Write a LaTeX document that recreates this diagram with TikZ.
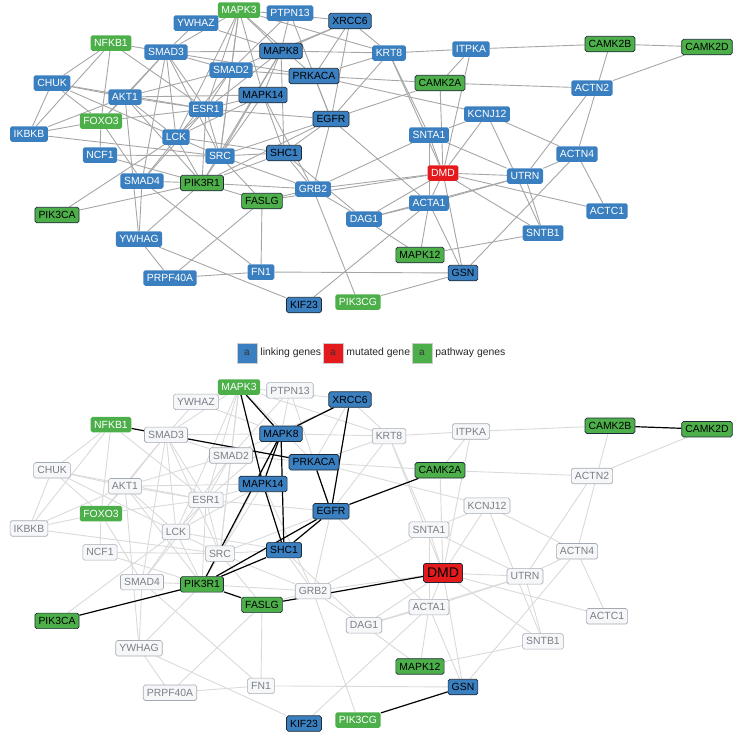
\documentclass[tikz,border=0pt]{standalone}
\usepackage{fontspec}
\setmainfont{Liberation Sans}
\usetikzlibrary{backgrounds}
\definecolor{gblue}{HTML}{3A7FC0}
\definecolor{ggreen}{HTML}{4DAF4A}
\definecolor{gred}{HTML}{E41A1C}
\definecolor{gborder}{HTML}{1F2A36}
\definecolor{edgegray}{HTML}{A6A6A6}
\definecolor{edgelight}{HTML}{DADADA}
\definecolor{greyfill}{HTML}{F6F7F9}
\definecolor{greyline}{HTML}{A4AAB2}
\definecolor{greytext}{HTML}{7A7F86}
\newcommand\genenode[5]{%
  \node[#4] (t#1) at (#2,#3) {#1};
  \node[#5] (b#1) at (#2,{375.6+1.1407*#3}) {#1};}
\newcommand\gedge[2]{%
  \draw[tedge] (t#1) -- (t#2);
  \draw[bedge] (b#1) -- (b#2);}
\newcommand\gblack[2]{%
  \draw[tedge] (t#1) -- (t#2);
  \draw[kedge] (b#1) -- (b#2);}
\tikzset{
  gbase/.style={rectangle, rounded corners=1.8pt, minimum height=15.5pt, inner xsep=3.6pt, inner ysep=0pt, font=\fontsize{10.4}{10.4}\selectfont},
  lb/.style={gbase, fill=gblue, text=white},
  db/.style={gbase, fill=gblue, draw=gborder, line width=0.7pt, text=black},
  lg/.style={gbase, fill=ggreen, text=white},
  dg/.style={gbase, fill=ggreen, draw=gborder, line width=0.7pt, text=black},
  rd/.style={gbase, fill=gred, text=white},
  rdb/.style={gbase, fill=gred, draw=gborder, line width=0.7pt, text=black, minimum height=19pt, font=\fontsize{14}{14}\selectfont},
  gr/.style={gbase, fill=greyfill, draw=greyline, line width=0.6pt, text=greytext},
  tedge/.style={draw=edgegray, line width=0.9pt},
  bedge/.style={draw=edgelight, line width=0.9pt},
  kedge/.style={draw=black, line width=1.2pt},
  legsq/.style={rectangle, minimum width=20pt, minimum height=20pt, inner sep=0pt, draw=white!80!black, line width=0.5pt, text=black!80, font=\fontsize{10}{10}\selectfont},
  legtxt/.style={anchor=west, inner xsep=3pt, text=black!85, font=\fontsize{10.4}{10.4}\selectfont}
}
\begin{document}
\begin{tikzpicture}[x=1pt,y=-1pt]
\useasboundingbox (0,0) rectangle (740,736);
% nodes
\genenode{MAPK3}{239}{10}{lg}{lg}
\genenode{PTPN13}{290}{13}{lb}{gr}
\genenode{XRCC6}{350}{21}{db}{db}
\genenode{YWHAZ}{196}{23}{lb}{gr}
\genenode{NFKB1}{111}{43}{lg}{lg}
\genenode{SMAD3}{166}{52}{lb}{gr}
\genenode{MAPK8}{281}{51}{db}{db}
\genenode{KRT8}{389}{53}{lb}{gr}
\genenode{ITPKA}{471}{49}{lb}{gr}
\genenode{CAMK2B}{610}{44}{dg}{dg}
\genenode{CAMK2D}{707}{47}{dg}{dg}
\genenode{CHUK}{52}{83}{lb}{gr}
\genenode{SMAD2}{231}{70}{lb}{gr}
\genenode{PRKACA}{314}{76}{db}{db}
\genenode{CAMK2A}{440}{83}{dg}{dg}
\genenode{ACTN2}{592}{88}{lb}{gr}
\genenode{AKT1}{125}{97}{lb}{gr}
\genenode{MAPK14}{263}{95}{db}{db}
\genenode{ESR1}{206}{109}{lb}{gr}
\genenode{KCNJ12}{487}{114}{lb}{gr}
\genenode{FOXO3}{101}{121}{lg}{lg}
\genenode{IKBKB}{29}{134}{lb}{gr}
\genenode{EGFR}{331}{119}{db}{db}
\genenode{LCK}{176}{137}{lb}{gr}
\genenode{SNTA1}{429}{135}{lb}{gr}
\genenode{ACTN4}{577}{154}{lb}{gr}
\genenode{NCF1}{100}{155}{lb}{gr}
\genenode{SRC}{220}{156}{lb}{gr}
\genenode{SHC1}{284}{153}{db}{db}
\genenode{DMD}{443}{173}{rd}{rdb}
\genenode{UTRN}{525}{176}{lb}{gr}
\genenode{SMAD4}{142}{181}{lb}{gr}
\genenode{PIK3R1}{202}{183}{dg}{dg}
\genenode{GRB2}{313}{189}{lb}{gr}
\genenode{FASLG}{262}{201}{dg}{dg}
\genenode{ACTA1}{429}{203}{lb}{gr}
\genenode{DAG1}{364}{219}{lb}{gr}
\genenode{ACTC1}{607}{211}{lb}{gr}
\genenode{PIK3CA}{57}{215}{dg}{dg}
\genenode{SNTB1}{543}{233}{lb}{gr}
\genenode{YWHAG}{139}{239}{lb}{gr}
\genenode{MAPK12}{420}{255}{dg}{dg}
\genenode{PRPF40A}{170}{278}{lb}{gr}
\genenode{FN1}{261}{272}{lb}{gr}
\genenode{GSN}{463}{273}{db}{db}
\genenode{KIF23}{304}{305}{db}{db}
\genenode{PIK3CG}{358}{302}{lg}{lg}
% legend
\node[legsq, fill=gblue] (leg1) at (247,353) {a};
\node[legtxt] (leg1t) at (leg1.east) {linking genes};
\node[legsq, fill=gred] (leg2) at (333,353) {a};
\node[legtxt] (leg2t) at (leg2.east) {mutated gene};
\node[legsq, fill=ggreen] (leg3) at (422,353) {a};
\node[legtxt] (leg3t) at (leg3.east) {pathway genes};
\begin{pgfonlayer}{background}
% gray edges
\gedge{NFKB1}{CHUK}\gedge{NFKB1}{IKBKB}\gedge{NFKB1}{FOXO3}\gedge{NFKB1}{ESR1}
\gedge{CHUK}{IKBKB}\gedge{CHUK}{AKT1}\gedge{CHUK}{ESR1}\gedge{CHUK}{FOXO3}\gedge{CHUK}{LCK}
\gedge{IKBKB}{FOXO3}\gedge{IKBKB}{AKT1}\gedge{IKBKB}{SRC}
\gedge{AKT1}{SMAD3}\gedge{AKT1}{ESR1}\gedge{AKT1}{FOXO3}\gedge{AKT1}{SMAD2}\gedge{AKT1}{MAPK14}
\gedge{AKT1}{YWHAG}\gedge{AKT1}{PIK3R1}\gedge{AKT1}{LCK}
\gedge{FOXO3}{SMAD3}\gedge{FOXO3}{SMAD4}\gedge{FOXO3}{NCF1}\gedge{FOXO3}{ESR1}
\gedge{YWHAZ}{SMAD3}\gedge{YWHAZ}{MAPK3}\gedge{YWHAZ}{MAPK8}
\gedge{SMAD3}{MAPK8}\gedge{SMAD3}{SMAD2}\gedge{SMAD3}{ESR1}\gedge{SMAD3}{LCK}\gedge{SMAD3}{SMAD4}
\gedge{SMAD3}{MAPK3}\gedge{SMAD3}{SRC}
\gedge{MAPK3}{SMAD2}\gedge{MAPK3}{ESR1}\gedge{MAPK3}{PRKACA}\gedge{MAPK3}{XRCC6}\gedge{MAPK3}{KRT8}
\gedge{MAPK3}{SRC}\gedge{MAPK3}{LCK}
\gedge{PTPN13}{MAPK8}\gedge{PTPN13}{EGFR}\gedge{PTPN13}{SMAD2}
\gedge{XRCC6}{KRT8}\gedge{XRCC6}{PRKACA}\gedge{XRCC6}{SMAD2}
\gedge{MAPK8}{KRT8}\gedge{MAPK8}{ESR1}\gedge{MAPK8}{SRC}
\gedge{SMAD2}{PRKACA}\gedge{SMAD2}{ESR1}\gedge{SMAD2}{SRC}\gedge{SMAD2}{SMAD4}
\gedge{PRKACA}{KRT8}\gedge{PRKACA}{CAMK2A}\gedge{PRKACA}{KCNJ12}
\gedge{MAPK14}{ESR1}\gedge{MAPK14}{SRC}\gedge{MAPK14}{LCK}
\gedge{ESR1}{SRC}\gedge{ESR1}{EGFR}\gedge{ESR1}{LCK}\gedge{ESR1}{PIK3R1}
\gedge{EGFR}{KRT8}\gedge{EGFR}{GRB2}\gedge{EGFR}{SRC}\gedge{EGFR}{ACTA1}
\gedge{KRT8}{ITPKA}\gedge{KRT8}{SNTA1}\gedge{KRT8}{DMD}
\gedge{ITPKA}{CAMK2A}\gedge{ITPKA}{DMD}\gedge{ITPKA}{CAMK2B}
\gedge{CAMK2B}{ACTN4}\gedge{CAMK2D}{ACTN2}\gedge{CAMK2A}{ACTN2}\gedge{CAMK2A}{DMD}
\gedge{KCNJ12}{SNTA1}\gedge{KCNJ12}{ACTN4}\gedge{KCNJ12}{SNTB1}\gedge{KCNJ12}{DMD}
\gedge{SNTA1}{DMD}\gedge{SNTA1}{UTRN}\gedge{SNTA1}{GRB2}\gedge{SNTA1}{ACTA1}
\gedge{DMD}{UTRN}\gedge{DMD}{ACTA1}\gedge{DMD}{GRB2}\gedge{DMD}{SNTB1}\gedge{DMD}{ACTC1}
\gedge{DMD}{DAG1}\gedge{DMD}{GSN}
\gedge{UTRN}{ACTA1}\gedge{UTRN}{SNTB1}\gedge{UTRN}{ACTN2}\gedge{UTRN}{ACTN4}\gedge{UTRN}{DAG1}
\gedge{ACTN4}{ACTC1}\gedge{ACTN4}{GSN}
\gedge{ACTA1}{GSN}\gedge{ACTA1}{MAPK12}\gedge{ACTA1}{DAG1}\gedge{ACTA1}{KIF23}
\gedge{GSN}{FN1}\gedge{MAPK12}{SNTB1}\gedge{MAPK12}{DAG1}
\gedge{FN1}{PRPF40A}\gedge{FN1}{FASLG}
\gedge{KIF23}{YWHAG}\gedge{PIK3CG}{GRB2}
\gedge{DAG1}{GRB2}\gedge{DAG1}{SHC1}
\gedge{GRB2}{SHC1}\gedge{GRB2}{FASLG}\gedge{GRB2}{PIK3R1}\gedge{GRB2}{SRC}\gedge{GRB2}{MAPK14}
\gedge{FASLG}{SRC}
\gedge{PIK3R1}{YWHAG}\gedge{PIK3R1}{SRC}\gedge{PIK3R1}{LCK}\gedge{PIK3R1}{NCF1}\gedge{PIK3R1}{SMAD4}
\gedge{PIK3CA}{LCK}
\gedge{PRPF40A}{YWHAG}\gedge{PRPF40A}{FASLG}
\gedge{YWHAG}{SMAD4}\gedge{SMAD4}{FN1}\gedge{SMAD4}{ESR1}
\gedge{NCF1}{SRC}\gedge{LCK}{SRC}\gedge{LCK}{SHC1}\gedge{SRC}{SHC1}
% highlighted edges
\gblack{NFKB1}{PRKACA}
\gblack{MAPK3}{MAPK8}\gblack{MAPK3}{MAPK14}
\gblack{XRCC6}{EGFR}\gblack{XRCC6}{MAPK8}
\gblack{MAPK8}{MAPK14}\gblack{MAPK8}{SHC1}\gblack{MAPK8}{PIK3R1}
\gblack{PRKACA}{EGFR}\gblack{MAPK14}{SHC1}
\gblack{EGFR}{SHC1}\gblack{EGFR}{PIK3R1}\gblack{EGFR}{CAMK2A}
\gblack{CAMK2B}{CAMK2D}
\gblack{GSN}{PIK3CG}
\gblack{DMD}{FASLG}
\gblack{FASLG}{PIK3R1}\gblack{PIK3R1}{PIK3CA}\gblack{PIK3R1}{SHC1}
\end{pgfonlayer}
\end{tikzpicture}
\end{document}
